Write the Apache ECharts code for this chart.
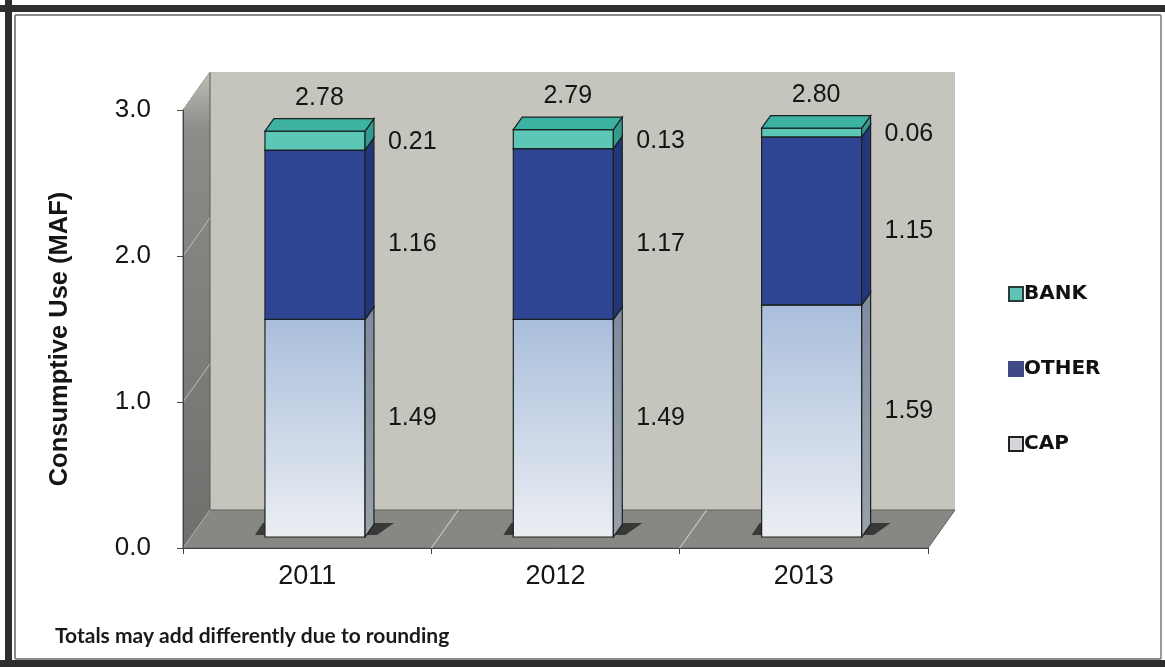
<!DOCTYPE html>
<html><head><meta charset="utf-8">
<script src="https://cdn.jsdelivr.net/npm/echarts@6/dist/echarts.min.js"></script>
<style>html,body{margin:0;padding:0;background:#fff}#c{width:1165px;height:667px}</style>
</head><body><div id="c"></div>
<script>
// ---- data ----
const categories = ['2011', '2012', '2013'];
const capValues = [1.49, 1.49, 1.59];
const otherValues = [1.16, 1.17, 1.15];
const bankValues = [0.13, 0.13, 0.06];          // bank segment as drawn
const capLabels = ['1.49', '1.49', '1.59'];
const otherLabels = ['1.16', '1.17', '1.15'];
const bankLabels = ['0.21', '0.13', '0.06'];
const totalLabels = ['2.78', '2.79', '2.80'];
const yTickValues = [0, 1, 2, 3];
const legendNames = ['BANK', 'OTHER', 'CAP'];
const footnote = 'Totals may add differently due to rounding';
const yTitle = 'Consumptive Use (MAF)';

// ---- style constants ----
const DX = 27, DY = -38;      // depth of plot box
const F0 = 0.29, F1 = 0.33;   // bar front offset & bar depth fraction
const BAR_W = 0.403;
const FONT = '"Liberation Sans", Arial, sans-serif';

const capData = categories.map((c, i) => [i, 0, capValues[i]]);
const otherData = categories.map((c, i) => [i, capValues[i], otherValues[i]]);
const bankData = categories.map((c, i) => [i, capValues[i] + otherValues[i], bankValues[i]]);

function segRenderer(front, side, top, labels, labelDy) {
  return function (params, api) {
    const i = api.value(0), b = api.value(1), v = api.value(2);
    const p0 = api.coord([i, b]), p1 = api.coord([i, b + v]);
    const bw = api.size([1, 0])[0] * BAR_W;
    const ox = DX * F0, oy = DY * F0, sx = DX * F1, sy = DY * F1;
    const L = p0[0] - bw / 2 + ox, R = p0[0] + bw / 2 + ox;
    const yB = p0[1] + oy, yT = p1[1] + oy;
    const stroke = '#1a2222';
    return {
      type: 'group',
      children: [
        { type: 'rect', shape: { x: L, y: yT, width: R - L, height: yB - yT },
          style: { fill: front, stroke: stroke, lineWidth: 1.2 } },
        { type: 'polygon', shape: { points: [[R, yB], [R + sx, yB + sy], [R + sx, yT + sy], [R, yT]] },
          style: { fill: side, stroke: stroke, lineWidth: 1.2 } },
        { type: 'polygon', shape: { points: [[L, yT], [L + sx, yT + sy], [R + sx, yT + sy], [R, yT]] },
          style: { fill: top, stroke: stroke, lineWidth: 1.2 } },
        { type: 'text', style: { text: labels[params.dataIndex], x: R + sx + 14, y: (yB + yT) / 2 + sy / 2 + labelDy,
            align: 'left', verticalAlign: 'middle', fill: '#151515', font: '25px ' + FONT } }
      ]
    };
  };
}

function shadowRenderer(params, api) {
  const i = api.value(0);
  const p0 = api.coord([i, 0]);
  const bw = api.size([1, 0])[0] * BAR_W;
  const ox = DX * F0, oy = DY * F0, sx = DX * F1, sy = DY * F1;
  const L = p0[0] - bw / 2 + ox, R = p0[0] + bw / 2 + ox, yB = p0[1] + oy;
  return {
    type: 'polygon',
    shape: { points: [[L - 10, yB - 2], [L - 2, yB - 14], [R + sx + 20, yB - 14], [R + 12, yB - 2]] },
    style: { fill: '#2b2b2b', opacity: 0.85 }
  };
}

function totalRenderer(params, api) {
  const i = api.value(0), t = api.value(1);
  const p = api.coord([i, t]);
  const ox = DX * F0, oy = DY * F0, sx = DX * F1, sy = DY * F1;
  return {
    type: 'text',
    style: { text: totalLabels[params.dataIndex], x: p[0] + ox + sx / 2, y: p[1] + oy + sy - 8,
      align: 'center', verticalAlign: 'bottom', fill: '#151515', font: '25px ' + FONT }
  };
}

function wallRenderer(params, api) {
  const cs = params.coordSys;
  const x0 = cs.x, y0 = cs.y, x1 = cs.x + cs.width, yb = cs.y + cs.height;
  const ch = [];
  ch.push({ type: 'rect', shape: { x: x0 + DX, y: y0 + DY, width: cs.width, height: cs.height },
    style: { fill: '#c5c5bd' } });
  ch.push({ type: 'polygon', shape: { points: [[x0, yb], [x0, y0], [x0 + DX, y0 + DY], [x0 + DX, yb + DY]] },
    style: { fill: new echarts.graphic.LinearGradient(0, 0, 0, 1, [
      { offset: 0, color: '#c0c0b8' }, { offset: 0.12, color: '#8c8c89' }, { offset: 1, color: '#6f6f6d' }]),
      stroke: '#5a5a58', lineWidth: 1 } });
  ch.push({ type: 'polygon', shape: { points: [[x0, yb], [x0 + DX, yb + DY], [x1 + DX, yb + DY], [x1, yb]] },
    style: { fill: '#878783', stroke: '#5f5f5d', lineWidth: 1 } });
  for (let k = 1; k < categories.length; k++) {
    const x = x0 + cs.width * k / categories.length;
    ch.push({ type: 'line', shape: { x1: x, y1: yb, x2: x + DX, y2: yb + DY },
      style: { stroke: '#c9c9c4', lineWidth: 1.2 } });
  }
  yTickValues.forEach(v => {
    const p = api.coord([0, v]);
    ch.push({ type: 'line', shape: { x1: x0, y1: p[1], x2: x0 + DX, y2: p[1] + DY },
      style: { stroke: '#bdbdb8', lineWidth: 1 } });
  });
  return { type: 'group', children: ch };
}

const chart = echarts.init(document.getElementById('c'), null, { renderer: 'canvas' });
chart.setOption({
  animation: false,
  backgroundColor: '#ffffff',
  grid: { left: 183, right: 237, top: 110, bottom: 119, containLabel: false },
  legend: {
    data: legendNames,
    orient: 'vertical', left: 1003, top: 278,
    itemWidth: 14, itemHeight: 14, itemGap: 53,
    icon: 'rect',
    textStyle: { fontFamily: '"DejaVu Sans", sans-serif', fontWeight: 'bold', fontSize: 20,
      color: '#111', lineHeight: 22, padding: [0, 0, 0, -4] }
  },
  xAxis: {
    type: 'category', data: categories, z: 10,
    axisLine: { lineStyle: { color: '#444', width: 1 } },
    axisTick: { show: true, length: 6, lineStyle: { color: '#444' } },
    axisLabel: { fontSize: 27, fontFamily: FONT, color: '#151515', margin: 15 }
  },
  yAxis: {
    type: 'value', min: 0, max: 3, interval: 1, z: 10,
    name: yTitle, nameLocation: 'middle', nameRotate: 90, nameGap: 110,
    nameTextStyle: { fontSize: 25.5, fontWeight: 'bold', fontFamily: FONT, color: '#151515',
      padding: [0, 20, 0, 0] },
    axisLine: { show: true, lineStyle: { color: '#444', width: 1 } },
    axisTick: { show: true, length: 6, lineStyle: { color: '#444' } },
    axisLabel: { fontSize: 26, fontFamily: FONT, color: '#151515', margin: 32,
      formatter: v => v.toFixed(1) },
    splitLine: { show: false }
  },
  series: [
    { type: 'custom', name: 'wall', data: [[0, 0]], renderItem: wallRenderer, z: 0, silent: true,
      encode: { x: 0, y: 1 } },
    { type: 'custom', name: 'shadow', data: capData, renderItem: shadowRenderer, z: 1, silent: true,
      encode: { x: 0, y: 1 } },
    { type: 'custom', name: 'CAP', data: capData, z: 2, encode: { x: 0, y: [1, 2] },
      itemStyle: { color: '#d4d6da', borderColor: '#222', borderWidth: 1.5 },
      renderItem: segRenderer(
        new echarts.graphic.LinearGradient(0, 0, 0, 1, [{ offset: 0, color: '#a9bedb' }, { offset: 1, color: '#eceef3' }]),
        new echarts.graphic.LinearGradient(0, 0, 0, 1, [{ offset: 0, color: '#7f8c9e' }, { offset: 1, color: '#9aa0a8' }]),
        '#b9c9df', capLabels, -4) },
    { type: 'custom', name: 'OTHER', data: otherData, z: 3, encode: { x: 0, y: [1, 2] },
      itemStyle: { color: '#424a86', borderColor: '#424a86', borderWidth: 1 },
      renderItem: segRenderer('#2f4593', '#23367a', '#3a50a0', otherLabels, 16) },
    { type: 'custom', name: 'BANK', data: bankData, z: 4, encode: { x: 0, y: [1, 2] },
      itemStyle: { color: '#5ec2b4', borderColor: '#2b3b3a', borderWidth: 1.5 },
      renderItem: segRenderer('#5cc6b7', '#329c8f', '#3cb2a2', bankLabels, 8) },
    { type: 'custom', name: 'total', z: 5, silent: true, encode: { x: 0, y: 1 },
      data: bankData.map(d => [d[0], d[1] + d[2]]), renderItem: totalRenderer }
  ],
  graphic: [
    { type: 'text', left: 55, top: 626, z: 20,
      style: { text: footnote, font: 'bold 21px Lato, "Open Sans", sans-serif', fill: '#1a1a1a' } },
    { type: 'group', z: 30, silent: true, children: [
      { type: 'line', shape: { x1: 0, y1: 8.5, x2: 1165, y2: 8.5 }, style: { stroke: '#2e2e2e', lineWidth: 7 } },
      { type: 'line', shape: { x1: 8.5, y1: 0, x2: 8.5, y2: 667 }, style: { stroke: '#2e2e2e', lineWidth: 7 } },
      { type: 'line', shape: { x1: 0, y1: 663.5, x2: 1165, y2: 663.5 }, style: { stroke: '#2e2e2e', lineWidth: 7 } },
      { type: 'line', shape: { x1: 15, y1: 15, x2: 1161, y2: 15 }, style: { stroke: '#8a8a8a', lineWidth: 2 } },
      { type: 'line', shape: { x1: 15, y1: 15, x2: 15, y2: 659 }, style: { stroke: '#8a8a8a', lineWidth: 2 } },
      { type: 'line', shape: { x1: 15, y1: 659, x2: 1161, y2: 659 }, style: { stroke: '#8a8a8a', lineWidth: 2 } },
      { type: 'line', shape: { x1: 1161, y1: 15, x2: 1161, y2: 659 }, style: { stroke: '#9a9a9a', lineWidth: 2 } }
    ] }
  ]
});
</script>
</body></html>
